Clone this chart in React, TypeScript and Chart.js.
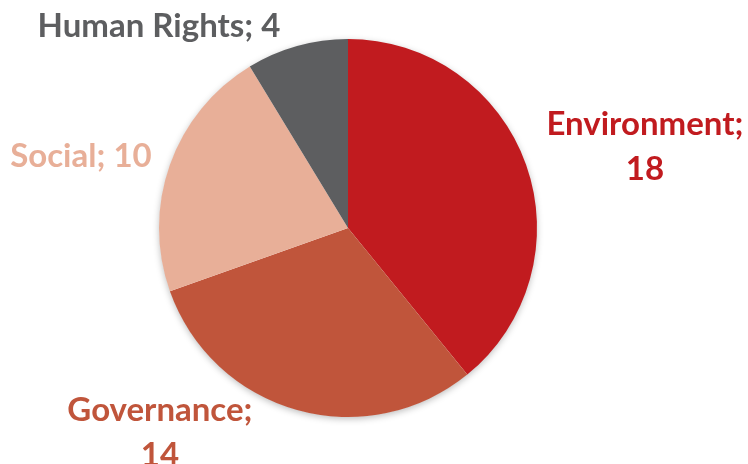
import React, { useEffect, useRef } from "react";
import { Chart, registerables } from "chart.js";

Chart.register(...registerables);

const categories = ["Environment", "Governance", "Social", "Human Rights"];
const values = [18, 14, 10, 4];
const sliceColors = ["#C11B1F", "#C0553B", "#E8AF98", "#5D5E60"];
// label line breaks: each entry lists lines
const labelLines = [
  ["Environment;", "18"],
  ["Governance;", "14"],
  ["Social; 10"],
  ["Human Rights; 4"],
];
// label block centers relative to pie center, in units of radius
const labelOffsets = [
  [1.571, -0.434],
  [-0.995, 1.082],
  [-1.413, -0.386],
  [-1.0, -1.069],
];

const FONT = "bold 33px Lato, 'Open Sans', sans-serif";
const LINE_H = 45;
const CAP_H = 23;

const shadowPlugin = {
  id: "pieShadow",
  beforeDatasetsDraw(chart: any) {
    const meta = chart.getDatasetMeta(0);
    const arc = meta.data[0];
    if (!arc) return;
    const ctx = chart.ctx;
    ctx.save();
    ctx.shadowColor = "rgba(0,0,0,0.28)";
    ctx.shadowBlur = 7;
    ctx.shadowOffsetX = 0;
    ctx.shadowOffsetY = 2;
    ctx.fillStyle = "#ffffff";
    ctx.beginPath();
    ctx.arc(arc.x, arc.y, arc.outerRadius - 0.5, 0, Math.PI * 2);
    ctx.fill();
    ctx.restore();
  },
};

const labelPlugin = {
  id: "sliceLabels",
  afterDatasetsDraw(chart: any) {
    const meta = chart.getDatasetMeta(0);
    const ctx = chart.ctx;
    ctx.save();
    ctx.font = FONT;
    ctx.textAlign = "center";
    ctx.textBaseline = "alphabetic";
    meta.data.forEach((arc: any, i: number) => {
      const r = arc.outerRadius;
      const cx = arc.x + labelOffsets[i][0] * r;
      const cy = arc.y + labelOffsets[i][1] * r;
      const lines = labelLines[i];
      const top = cy - ((lines.length - 1) * LINE_H) / 2;
      ctx.fillStyle = sliceColors[i];
      lines.forEach((ln, j) => {
        ctx.fillText(ln, cx, top + j * LINE_H + CAP_H / 2);
      });
    });
    ctx.restore();
  },
};

export default function App() {
  const ref = useRef<HTMLCanvasElement | null>(null);
  useEffect(() => {
    document.body.style.margin = "0";
    const chart = new Chart(ref.current as HTMLCanvasElement, {
      type: "pie",
      data: {
        labels: categories,
        datasets: [
          {
            data: values,
            backgroundColor: sliceColors,
            borderWidth: 0,
          },
        ],
      },
      options: {
        responsive: false,
        animation: false,
        layout: { padding: { left: 0, right: 52, top: 39, bottom: 47 } },
        plugins: {
          legend: { display: false },
          tooltip: { enabled: false },
        },
      },
      plugins: [shadowPlugin, labelPlugin],
    });
    return () => chart.destroy();
  }, []);
  return (
    <div style={{ width: 748, height: 464, background: "#fff" }}>
      <canvas ref={ref} width={748} height={464} />
    </div>
  );
}
